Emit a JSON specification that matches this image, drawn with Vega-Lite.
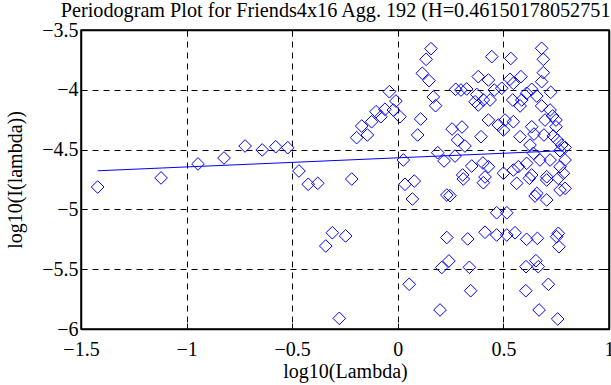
{
  "$schema": "https://vega.github.io/schema/vega-lite/v6.json",
  "width": 528,
  "height": 299,
  "autosize": {"type": "none"},
  "padding": {"left": 81, "top": 30, "right": 2, "bottom": 56},
  "title": {"text": "Periodogram Plot for Friends4x16 Agg. 192 (H=0.46150178052751)", "font": "Liberation Serif", "fontSize": 20.2, "fontWeight": "normal", "color": "black", "anchor": "middle", "offset": -1, "dx": -6},
  "config": {
    "view": {"stroke": "black", "strokeWidth": 1.5},
    "axis": {
      "labelFont": "Liberation Serif", "titleFont": "Liberation Serif",
      "labelFontSize": 20, "titleFontSize": 20, "titleFontWeight": "normal",
      "labelColor": "black", "titleColor": "black",
      "domainColor": "black", "domainWidth": 1.5,
      "tickColor": "black", "tickSize": -6, "tickWidth": 1,
      "grid": true, "gridColor": "black", "gridDash": [6, 5], "gridOpacity": 1, "gridWidth": 1
    }
  },
  "datasets": {
    "pts": [
      {"x": -1.421, "y": -4.813}, {"x": -1.121, "y": -4.737}, {"x": -0.946, "y": -4.62}, {"x": -0.823, "y": -4.57},
      {"x": -0.723, "y": -4.47}, {"x": -0.642, "y": -4.503}, {"x": -0.578, "y": -4.476}, {"x": -0.521, "y": -4.484},
      {"x": -0.468, "y": -4.679}, {"x": -0.424, "y": -4.79}, {"x": -0.379, "y": -4.782}, {"x": -0.218, "y": -4.746},
      {"x": -0.195, "y": -4.4}, {"x": -0.144, "y": -4.378}, {"x": -0.171, "y": -4.303}, {"x": -0.124, "y": -4.267},
      {"x": -0.103, "y": -4.183}, {"x": -0.08, "y": -4.225}, {"x": -0.061, "y": -4.163}, {"x": -0.04, "y": -4.016},
      {"x": -0.009, "y": -4.094}, {"x": -0.021, "y": -4.169}, {"x": 0.01, "y": -4.225}, {"x": 0.026, "y": -4.587},
      {"x": 0.034, "y": -4.79}, {"x": 0.078, "y": -4.763}, {"x": 0.069, "y": -4.913}, {"x": 0.108, "y": -4.244},
      {"x": 0.094, "y": -4.378}, {"x": 0.116, "y": -3.862}, {"x": 0.148, "y": -3.924}, {"x": 0.134, "y": -3.745},
      {"x": 0.157, "y": -3.656}, {"x": 0.168, "y": -4.06}, {"x": 0.179, "y": -4.133}, {"x": 0.189, "y": -4.526},
      {"x": 0.219, "y": -4.595}, {"x": 0.232, "y": -4.88}, {"x": -0.31, "y": -5.195}, {"x": -0.247, "y": -5.222},
      {"x": -0.341, "y": -5.306}, {"x": -0.277, "y": -5.911}, {"x": 0.054, "y": -5.626}, {"x": 0.2, "y": -5.841},
      {"x": 0.232, "y": -5.235}, {"x": 0.208, "y": -5.486}, {"x": 0.242, "y": -5.431}, {"x": 0.445, "y": -3.723},
      {"x": 0.381, "y": -3.89}, {"x": 0.429, "y": -3.918}, {"x": 0.274, "y": -3.996}, {"x": 0.299, "y": -4.002},
      {"x": 0.326, "y": -3.993}, {"x": 0.374, "y": -4.039}, {"x": 0.366, "y": -4.1}, {"x": 0.381, "y": -4.127},
      {"x": 0.405, "y": -4.085}, {"x": 0.437, "y": -4.085}, {"x": 0.257, "y": -4.328}, {"x": 0.304, "y": -4.311},
      {"x": 0.283, "y": -4.42}, {"x": 0.318, "y": -4.47}, {"x": 0.394, "y": -4.392}, {"x": 0.271, "y": -4.554},
      {"x": 0.35, "y": -4.637}, {"x": 0.403, "y": -4.612}, {"x": 0.307, "y": -4.712}, {"x": 0.31, "y": -4.746},
      {"x": 0.247, "y": -4.885}, {"x": 0.405, "y": -4.777}, {"x": 0.331, "y": -5.247}, {"x": 0.413, "y": -5.191},
      {"x": 0.339, "y": -5.484}, {"x": 0.345, "y": -5.68}, {"x": 0.681, "y": -3.653}, {"x": 0.689, "y": -3.745},
      {"x": 0.535, "y": -3.738}, {"x": 0.689, "y": -3.857}, {"x": 0.681, "y": -3.932}, {"x": 0.724, "y": -4.021},
      {"x": 0.531, "y": -3.912}, {"x": 0.583, "y": -3.89}, {"x": 0.547, "y": -3.946}, {"x": 0.634, "y": -3.996},
      {"x": 0.61, "y": -4.029}, {"x": 0.658, "y": -4.052}, {"x": 0.457, "y": -4.002}, {"x": 0.492, "y": -3.987},
      {"x": 0.544, "y": -4.085}, {"x": 0.587, "y": -4.085}, {"x": 0.579, "y": -4.135}, {"x": 0.681, "y": -4.135},
      {"x": 0.721, "y": -4.169}, {"x": 0.733, "y": -4.219}, {"x": 0.697, "y": -4.253}, {"x": 0.749, "y": -4.253},
      {"x": 0.749, "y": -4.309}, {"x": 0.429, "y": -4.253}, {"x": 0.476, "y": -4.294}, {"x": 0.5, "y": -4.336},
      {"x": 0.547, "y": -4.267}, {"x": 0.508, "y": -4.253}, {"x": 0.579, "y": -4.392}, {"x": 0.634, "y": -4.309},
      {"x": 0.645, "y": -4.37}, {"x": 0.692, "y": -4.378}, {"x": 0.736, "y": -4.386}, {"x": 0.755, "y": -4.42},
      {"x": 0.626, "y": -4.462}, {"x": 0.776, "y": -4.462}, {"x": 0.792, "y": -4.481}, {"x": 0.768, "y": -4.509},
      {"x": 0.642, "y": -4.531}, {"x": 0.673, "y": -4.587}, {"x": 0.721, "y": -4.587}, {"x": 0.792, "y": -4.587},
      {"x": 0.61, "y": -4.615}, {"x": 0.571, "y": -4.643}, {"x": 0.547, "y": -4.671}, {"x": 0.5, "y": -4.698},
      {"x": 0.429, "y": -4.643}, {"x": 0.768, "y": -4.643}, {"x": 0.784, "y": -4.698}, {"x": 0.634, "y": -4.712},
      {"x": 0.705, "y": -4.727}, {"x": 0.563, "y": -4.782}, {"x": 0.623, "y": -4.74}, {"x": 0.705, "y": -4.754},
      {"x": 0.76, "y": -4.74}, {"x": 0.792, "y": -4.824}, {"x": 0.65, "y": -4.888}, {"x": 0.705, "y": -4.921},
      {"x": 0.658, "y": -4.866}, {"x": 0.768, "y": -4.838}, {"x": 0.413, "y": -4.729},
      {"x": 0.468, "y": -5.028}, {"x": 0.516, "y": -5.028}, {"x": 0.468, "y": -5.214}, {"x": 0.516, "y": -5.214},
      {"x": 0.555, "y": -5.195}, {"x": 0.61, "y": -5.25}, {"x": 0.661, "y": -5.242}, {"x": 0.76, "y": -5.2},
      {"x": 0.752, "y": -5.228}, {"x": 0.763, "y": -5.312}, {"x": 0.607, "y": -5.479}, {"x": 0.654, "y": -5.429},
      {"x": 0.665, "y": -5.479}, {"x": 0.713, "y": -5.626}, {"x": 0.606, "y": -5.68}, {"x": 0.669, "y": -5.841},
      {"x": 0.757, "y": -5.916}
    ],
    "fit": [{"x": -1.421, "y": -4.677}, {"x": 0.784, "y": -4.509}]
  },
  "layer": [
    {
      "data": {"name": "pts"},
      "mark": {"type": "point", "shape": "diamond", "size": 160, "filled": false, "stroke": "#0000ff", "strokeWidth": 1, "opacity": 1},
      "encoding": {
        "x": {"field": "x", "type": "quantitative", "scale": {"domain": [-1.5, 1], "nice": false, "zero": false},
          "axis": {"orient": "bottom", "values": [-1.5, -1, -0.5, 0, 0.5, 1], "title": "log10(Lambda)", "labelPadding": 16, "titlePadding": 2,
            "labelExpr": "replace(format(datum.value, ''), '-', '\u2212')", "labelFlush": false}},
        "y": {"field": "y", "type": "quantitative", "scale": {"domain": [-6, -3.5], "nice": false, "zero": false},
          "axis": {"orient": "left", "values": [-6, -5.5, -5, -4.5, -4, -3.5], "title": "log10(I(lambda))", "labelPadding": 9, "titlePadding": 16,
            "labelExpr": "replace(format(datum.value, ''), '-', '\u2212')", "labelFlush": false}}
      }
    },
    {
      "data": {"name": "fit"},
      "mark": {"type": "line", "color": "#0000ff", "strokeWidth": 1},
      "encoding": {
        "x": {"field": "x", "type": "quantitative", "axis": {"orient": "top", "values": [-1.5, -1, -0.5, 0, 0.5, 1], "labels": false, "title": null, "grid": false}},
        "y": {"field": "y", "type": "quantitative", "axis": {"orient": "right", "values": [-6, -5.5, -5, -4.5, -4, -3.5], "labels": false, "title": null, "grid": false}}
      }
    }
  ],
  "resolve": {"axis": {"x": "independent", "y": "independent"}}
}
